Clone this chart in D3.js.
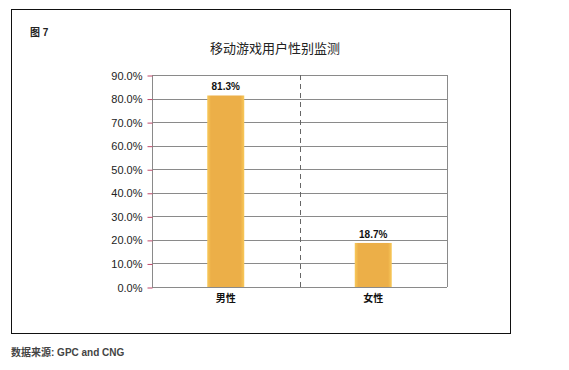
<!DOCTYPE html>
<html>
<head>
<meta charset="utf-8">
<script src="https://cdn.jsdelivr.net/npm/d3@7"></script>
<style>
  body { margin: 0; background: #fff; }
  svg { display: block; font-family: "Liberation Sans", Arial, "Noto Sans CJK SC", sans-serif; }
</style>
</head>
<body>
<div id="chart"></div>
<script>
const categories = ['男性', '女性'];
const shares = [81.3, 18.7];
const yTicks = [0, 10, 20, 30, 40, 50, 60, 70, 80, 90];

const width = 569
    , height = 370
    , plot = { left: 152, right: 447, top: 75, bottom: 287 }
    , gridColor = '#8a8a8a'
    , tickColor = '#c0486a'
    ;

const svg = d3.select('#chart')
  .append('svg')
  .attr('width', width)
  .attr('height', height);

const defs = svg.append('defs');
const grad = defs.append('linearGradient')
  .attr('id', 'barFill')
  .attr('x1', '0%').attr('x2', '100%').attr('y1', '0%').attr('y2', '0%');
grad.append('stop').attr('offset', '0%').attr('stop-color', '#f8c95a');
grad.append('stop').attr('offset', '10%').attr('stop-color', '#ecaf48');
grad.append('stop').attr('offset', '90%').attr('stop-color', '#ecaf48');
grad.append('stop').attr('offset', '100%').attr('stop-color', '#f8c95a');

// outer frame
svg.append('rect')
  .attr('x', 11.5).attr('y', 9.5)
  .attr('width', 499).attr('height', 324)
  .attr('fill', 'none')
  .attr('stroke', '#111')
  .attr('stroke-width', 1);

svg.append('text')
  .attr('x', 30).attr('y', 36)
  .style('font-size', '10px')
  .style('font-weight', 'bold')
  .attr('fill', '#222')
  .text('图 7');

svg.append('text')
  .attr('x', 275).attr('y', 53)
  .attr('text-anchor', 'middle')
  .style('font-size', '13px')
  .attr('fill', '#222')
  .text('移动游戏用户性别监测');

svg.append('text')
  .attr('x', 11).attr('y', 356)
  .style('font-size', '10px')
  .style('font-weight', 'bold')
  .attr('fill', '#444')
  .text('数据来源: GPC and CNG');

const x = d3.scaleBand()
  .domain(categories)
  .range([plot.left, plot.right])
  .paddingInner(0)
  .paddingOuter(0);

const y = d3.scaleLinear()
  .domain([0, 90])
  .range([plot.bottom, plot.top]);

// gridlines
svg.append('g')
  .selectAll('line')
  .data(yTicks)
  .join('line')
    .attr('x1', plot.left).attr('x2', plot.right)
    .attr('y1', d => Math.round(y(d)) + 0.5)
    .attr('y2', d => Math.round(y(d)) + 0.5)
    .attr('stroke', gridColor)
    .attr('stroke-width', 1);

// right border
svg.append('line')
  .attr('x1', plot.right + 0.5).attr('x2', plot.right + 0.5)
  .attr('y1', plot.top).attr('y2', plot.bottom)
  .attr('stroke', gridColor);

// dashed category separator
svg.append('line')
  .attr('x1', Math.round(x(categories[1])) + 0.5)
  .attr('x2', Math.round(x(categories[1])) + 0.5)
  .attr('y1', plot.top).attr('y2', plot.bottom)
  .attr('stroke', '#666')
  .attr('stroke-dasharray', '5,4');

// y axis
const yAxis = svg.append('g')
  .attr('transform', `translate(${plot.left + 0.5},0.5)`)
  .call(d3.axisLeft(y).tickValues(yTicks).tickSize(5).tickPadding(5)
    .tickFormat(d => d.toFixed(1) + '%'));
yAxis.select('.domain').attr('stroke', gridColor).attr('d', `M0,${plot.top - 0.5}V${plot.bottom}`);
yAxis.selectAll('.tick line').attr('stroke', tickColor);
yAxis.selectAll('.tick text')
  .style('font-size', '11px')
  .style('font-family', '"Liberation Sans", Arial, sans-serif')
  .attr('fill', '#222');

// bars
const barW = 37;
svg.append('g')
  .selectAll('rect')
  .data(shares)
  .join('rect')
    .attr('x', (d, i) => x(categories[i]) + x.bandwidth() / 2 - barW / 2)
    .attr('y', d => y(d))
    .attr('width', barW)
    .attr('height', d => y(0) - y(d))
    .attr('fill', 'url(#barFill)');

// value labels
svg.append('g')
  .selectAll('text')
  .data(shares)
  .join('text')
    .attr('x', (d, i) => x(categories[i]) + x.bandwidth() / 2)
    .attr('y', d => y(d) - 5)
    .attr('text-anchor', 'middle')
    .style('font-size', '10px')
    .style('font-weight', 'bold')
    .attr('fill', '#111')
    .text(d => d.toFixed(1) + '%');

// category labels
svg.append('g')
  .selectAll('text')
  .data(categories)
  .join('text')
    .attr('x', d => x(d) + x.bandwidth() / 2)
    .attr('y', plot.bottom + 15)
    .attr('text-anchor', 'middle')
    .style('font-size', '10px')
    .style('font-weight', 'bold')
    .attr('fill', '#111')
    .text(d => d);
</script>
</body>
</html>
